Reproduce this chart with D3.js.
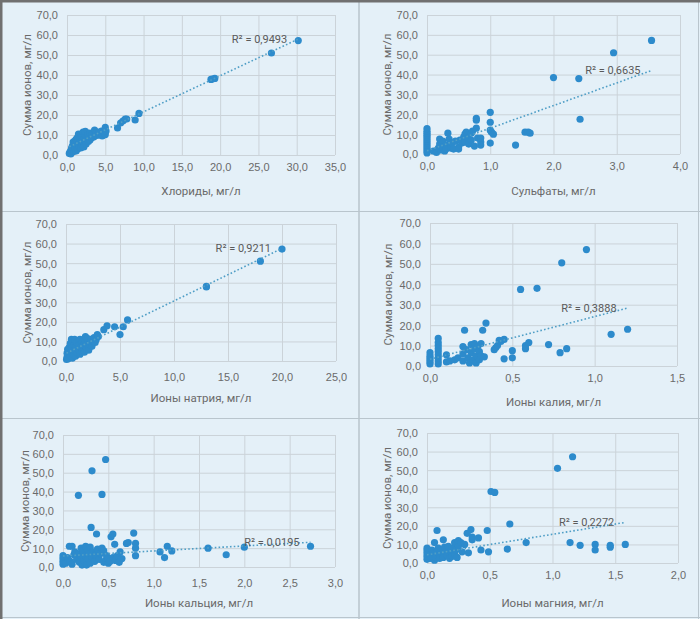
<!DOCTYPE html>
<html><head><meta charset="utf-8">
<script src="https://cdn.jsdelivr.net/npm/d3@7/dist/d3.min.js"></script>
<style>
html,body{margin:0;padding:0;background:#e4f0f8;}
svg{display:block;font-family:Roboto,"Liberation Sans",sans-serif;}
</style></head>
<body><svg id="c" width="700" height="619"></svg>
<script>
// ---- data ----
const xTitles = ["Хлориды, мг/л","Сульфаты, мг/л","Ионы натрия, мг/л","Ионы калия, мг/л","Ионы кальция, мг/л","Ионы магния, мг/л"];
const yTitle = "Сумма ионов, мг/л";
const yTicks = [0,10,20,30,40,50,60,70];
const xTicks1 = [0,5,10,15,20,25,30,35];
const xTicks2 = [0,1,2,3,4];
const xTicks3 = [0,5,10,15,20,25];
const xTicks4 = [0,0.5,1,1.5];
const xTicks5 = [0,0.5,1,1.5,2,2.5,3];
const xTicks6 = [0,0.5,1,1.5,2];
const r2Labels = ["R² = 0,9493","R² = 0,6635","R² = 0,9211","R² = 0,3888","R² = 0,0195","R² = 0,2272"];
const trendSlope = [1.80, 11.4, 2.68, 20.9, 2.66, 11.05];
const trendIntercept = [3.6, 1.6, 3.9, 3.3, 5.84, 4.4];

const chlorides = [[0.3,0.8],[0.4,1.5],[0.5,2.2],[0.5,0.5],[0.6,3.5],[0.6,1.2],[0.7,4.5],[0.7,2.0],[0.8,6.5],[0.8,3.0],[0.9,5.0],[0.9,1.8],[1.0,7.0],[1.0,4.0],[1.0,2.5],[1.1,6.0],[1.1,3.2],[1.2,8.0],[1.2,5.0],[1.2,2.0],[1.3,6.8],[1.3,4.2],[1.4,9.0],[1.4,3.0],[1.5,10.5],[1.5,7.5],[1.5,5.5],[1.6,4.0],[1.7,8.5],[1.7,6.2],[1.8,10.0],[1.8,3.5],[1.9,7.0],[2.0,9.5],[2.0,5.0],[2.1,11.5],[2.1,6.5],[2.2,8.0],[2.2,4.0],[2.3,10.5],[2.4,7.0],[2.4,11.8],[2.5,9.0],[2.5,5.5],[2.6,8.2],[2.7,10.0],[2.8,6.8],[2.9,9.0],[3.0,11.0],[3.0,7.5],[3.2,8.5],[3.3,10.2],[3.5,9.0],[3.6,12.5],[3.8,11.0],[3.9,9.8],[4.2,11.5],[4.3,10.0],[4.5,12.0],[4.6,9.5],[4.8,11.0],[5.0,13.8],[5.0,10.2],[5.1,12.0],[6.6,13.5],[7.0,16],[7.3,17],[7.6,18],[7.8,18],[8.9,17.5],[9.4,20.8],[18.8,37.8],[19.0,38.0],[19.3,38.3],[26.7,51],[30.2,57.2]];
const sulfates = [[0,0.5],[0,1.5],[0,2.5],[0,3.5],[0,4.5],[0,5.5],[0,6.5],[0,7.5],[0,8.5],[0,9.5],[0,10.5],[0,11.5],[0,12.8],[0.1,1.5],[0.15,0.8],[0.18,3],[0.2,7.5],[0.2,5],[0.22,2],[0.25,6.5],[0.25,3.5],[0.28,1.5],[0.3,4.5],[0.33,10.5],[0.3,2.5],[0.35,7.5],[0.38,3],[0.4,5.5],[0.42,2.5],[0.45,6.5],[0.5,3.5],[0.5,2.5],[0.52,7],[0.55,5.5],[0.58,8.5],[0.6,10],[0.6,6],[0.62,11],[0.65,8],[0.66,5],[0.7,10.5],[0.7,7],[0.72,11.5],[0.75,4],[0.78,18],[0.78,17],[0.78,13],[0.8,8],[0.85,6],[0.85,4.5],[0.85,8],[1.0,21],[1.0,16],[1.0,12],[1.02,11],[1.05,10],[1.0,5.5],[1.4,4.5],[1.55,11],[1.6,11],[1.63,10.5],[2.0,38.5],[2.4,38],[2.42,17.5],[2.95,51],[3.55,57.2]];
const sodium = [[0.05,0.8],[0.1,2],[0.1,4],[0.15,6],[0.2,3],[0.2,1.2],[0.3,5],[0.3,7],[0.4,2.5],[0.4,9],[0.5,11],[0.5,4.5],[0.55,6.5],[0.6,1.5],[0.6,10.5],[0.7,3.5],[0.7,8],[0.8,5.5],[0.8,11],[0.9,7],[0.9,2.5],[1.0,9.5],[1.0,4.5],[1.1,6],[1.2,10.5],[1.2,8],[1.3,3.5],[1.3,11],[1.4,7],[1.5,5],[1.5,9.5],[1.6,8],[1.7,4.5],[1.8,10],[1.8,12.5],[1.9,6.5],[2.0,9],[2.0,11.5],[2.1,5.5],[2.2,8.5],[2.3,11],[2.4,7.5],[2.5,10],[2.6,12],[2.7,9.5],[2.8,11],[2.9,13.5],[3.0,12.5],[3.5,16],[3.8,18],[4.5,17.5],[5.0,13.5],[5.3,17.5],[5.7,21],[13.0,38.2],[13.0,37.8],[18.0,51],[20.0,57.2]];
const potassium = [[0,1],[0,2],[0,3],[0,4],[0,5],[0,6.5],[0.05,1],[0.05,2.5],[0.05,4],[0.05,5.5],[0.05,7],[0.05,8.5],[0.05,10],[0.05,11.5],[0.05,13.5],[0.1,5.5],[0.1,2],[0.12,2.5],[0.15,3],[0.17,4],[0.2,2.5],[0.2,6],[0.2,9.5],[0.21,17.5],[0.22,8],[0.23,4],[0.24,1.5],[0.25,10.5],[0.25,6.5],[0.26,3],[0.27,11],[0.27,8.5],[0.28,5],[0.28,1.5],[0.29,9.5],[0.3,7],[0.3,3],[0.31,11],[0.31,5],[0.32,17.5],[0.33,4.5],[0.34,21],[0.39,8],[0.4,9],[0.41,10],[0.42,12.5],[0.43,12],[0.45,13],[0.45,3.5],[0.5,7.5],[0.5,4],[0.55,37.5],[0.58,10],[0.58,8.5],[0.6,11.5],[0.65,38],[0.72,10.5],[0.79,6.5],[0.8,50.5],[0.83,8.5],[0.95,57],[1.1,15.5],[1.2,18]];
const calcium = [[0,1.5],[0,3],[0,4.5],[0,6],[0.03,2],[0.05,5],[0.07,11],[0.08,3],[0.1,11],[0.1,1.5],[0.12,6.5],[0.13,8],[0.15,4],[0.17,7],[0.18,2.5],[0.2,10],[0.2,5.5],[0.21,1],[0.22,8.5],[0.23,3.5],[0.25,6],[0.25,11],[0.26,1],[0.27,9],[0.28,4.5],[0.29,7.5],[0.3,2],[0.3,10.5],[0.32,5.5],[0.33,8],[0.35,3],[0.36,6.5],[0.37,17.5],[0.38,9.5],[0.4,4],[0.41,7],[0.43,10],[0.45,2.5],[0.45,8.5],[0.47,3.5],[0.48,6],[0.5,2],[0.5,4.5],[0.52,3],[0.53,16],[0.55,17.5],[0.55,5],[0.57,12],[0.58,3.5],[0.6,6],[0.62,2.5],[0.63,8],[0.65,4.5],[0.17,38],[0.32,51],[0.43,38.5],[0.47,57],[0.31,21],[0.7,12.5],[0.72,13],[0.78,18],[0.8,12.5],[0.8,10],[0.8,6],[1.07,8],[1.12,5],[1.15,11],[1.2,8.5],[1.6,10],[1.8,6.5],[2.0,10.5],[2.73,11]];
const magnesium = [[0,2],[0,3.5],[0,5],[0,6.5],[0,8],[0.02,4],[0.03,2.5],[0.04,7],[0.05,5.5],[0.06,1.5],[0.06,11],[0.07,3],[0.08,17.5],[0.08,6],[0.09,8],[0.1,4],[0.1,2.5],[0.11,7],[0.12,5],[0.13,12.5],[0.13,3],[0.14,8.5],[0.15,6],[0.16,4],[0.17,9],[0.18,2.5],[0.19,6.5],[0.2,3.5],[0.2,8],[0.22,11],[0.22,5],[0.23,7],[0.24,3],[0.25,12],[0.25,9],[0.27,11],[0.28,6],[0.3,10],[0.32,16],[0.33,5.5],[0.35,18],[0.36,14],[0.36,12.5],[0.41,13.5],[0.43,7],[0.48,17.5],[0.49,6],[0.51,38.5],[0.54,38],[0.64,7.5],[0.66,21],[0.79,11],[1.04,51],[1.16,57.2],[1.14,11],[1.22,9.5],[1.34,10],[1.34,7],[1.46,9.5],[1.46,8.5],[1.58,10]];

const seriesList = [chlorides, sulfates, sodium, potassium, calcium, magnesium];
const xTickList = [xTicks1, xTicks2, xTicks3, xTicks4, xTicks5, xTicks6];

// ---- layout ----
const layout = [
  {l:67, r:335, t:15, b:155, tickY:167, titleY:191, yTitleX:27},
  {l:427, r:680, t:15, b:154, tickY:166, titleY:191, yTitleX:387},
  {l:66, r:336, t:224, b:361, tickY:377, titleY:398, yTitleX:27},
  {l:430, r:677, t:223, b:366, tickY:378, titleY:402, yTitleX:388},
  {l:63, r:335, t:435, b:567, tickY:583, titleY:603, yTitleX:25},
  {l:427, r:678, t:433, b:563, tickY:575, titleY:603, yTitleX:387}
];

const svg = d3.select("#c");
svg.append("rect").attr("width",700).attr("height",619).attr("fill","#e4f0f8");

// separators
const sepColor = "#b9c5cd";
svg.append("line").attr("x1",359).attr("x2",359).attr("y1",0).attr("y2",619).attr("stroke",sepColor).attr("stroke-width",1.5);
svg.append("line").attr("x1",0).attr("x2",700).attr("y1",211.5).attr("y2",211.5).attr("stroke",sepColor);
svg.append("line").attr("x1",0).attr("x2",700).attr("y1",418.5).attr("y2",418.5).attr("stroke",sepColor);
svg.append("line").attr("x1",698.5).attr("x2",698.5).attr("y1",0).attr("y2",619).attr("stroke",sepColor);
svg.append("line").attr("x1",0).attr("x2",700).attr("y1",617.5).attr("y2",617.5).attr("stroke",sepColor);
svg.append("rect").attr("x",0).attr("y",0).attr("width",2.5).attr("height",619).attr("fill","#707070");
svg.append("rect").attr("x",0).attr("y",0).attr("width",700).attr("height",2.5).attr("fill","#707070");

const fmt = v => d3.format(".1f")(v).replace(".", ",");
const textColor = "#6a6a6a";
const gridColor = "#cbd3d9";

seriesList.forEach((data, i) => {
  const L = layout[i];
  const ticks = xTickList[i];
  const x = d3.scaleLinear().domain([0, ticks[ticks.length-1]]).range([L.l, L.r]);
  const y = d3.scaleLinear().domain([0, 70]).range([L.b, L.t]);
  const g = svg.append("g");

  const gy = g.append("g").attr("transform", `translate(${L.l},0)`)
    .call(d3.axisLeft(y).tickValues(yTicks).tickSize(-(L.r-L.l)).tickFormat(fmt));
  gy.select(".domain").remove();
  gy.selectAll("line").attr("stroke", gridColor);
  gy.selectAll("text").attr("fill", textColor).attr("font-size", 11).attr("x", -9).attr("dy","0.35em");

  const gx = g.append("g").attr("transform", `translate(0,${L.b})`)
    .call(d3.axisBottom(x).tickValues(ticks).tickSize(-(L.b-L.t)).tickFormat(fmt));
  gx.select(".domain").remove();
  gx.selectAll("line").attr("stroke", gridColor);
  gx.selectAll("text").attr("fill", textColor).attr("font-size", 11)
    .attr("y", L.tickY - L.b).attr("dy","0.35em");

  g.append("text").attr("x", (L.l+L.r)/2).attr("y", L.titleY).attr("dy","0.35em")
    .attr("text-anchor","middle").attr("fill",textColor).attr("font-size",11.5).text(xTitles[i]);
  g.append("text").attr("transform", `translate(${L.yTitleX},${(L.t+L.b)/2}) rotate(-90)`).attr("dy","0.35em")
    .attr("text-anchor","middle").attr("fill",textColor).attr("font-size",11.5).text(yTitle);

  g.append("g").selectAll("circle").data(data).join("circle")
    .attr("cx", d => x(d[0])).attr("cy", d => y(d[1])).attr("r", 3.6)
    .attr("fill", "#2d8bcc");

  const xmin = d3.min(data, d => d[0]), xmax = d3.max(data, d => d[0]);
  const f = v => trendIntercept[i] + trendSlope[i]*v;
  g.append("line").attr("x1", x(xmin)).attr("y1", y(f(xmin))).attr("x2", x(xmax)).attr("y2", y(f(xmax)))
    .attr("stroke", "#4f9ec6").attr("stroke-width", 1.6).attr("stroke-dasharray", "1.6,2.2");

  g.append("text").attr("x", x(xmax) - 11).attr("y", y(f(xmax))).attr("dy","0.35em")
    .attr("text-anchor","end").attr("fill","#5a5a5a").attr("font-size",11).text(r2Labels[i]);
});
</script></body></html>
